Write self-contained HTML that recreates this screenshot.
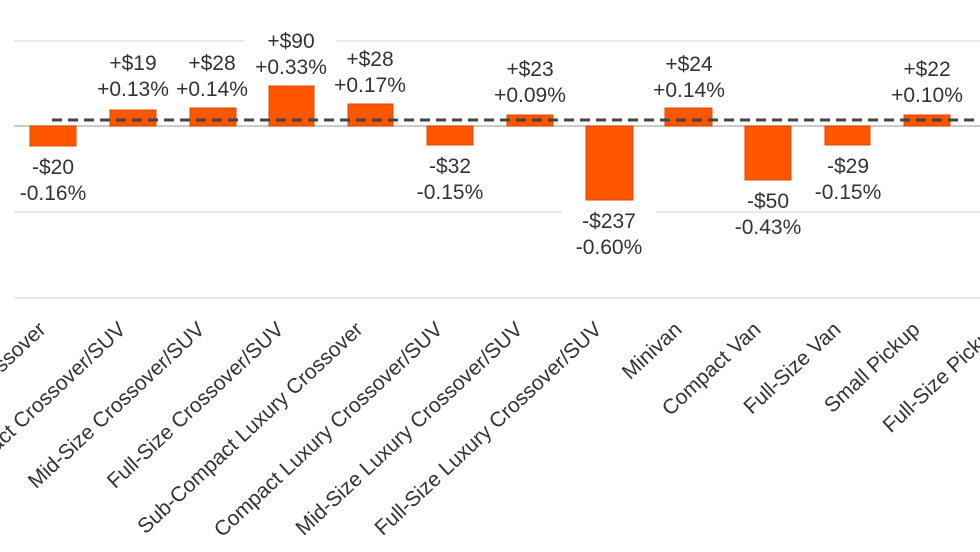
<!DOCTYPE html>
<html><head><meta charset="utf-8"><style>
html,body{margin:0;padding:0;background:#fff;}
svg{display:block;}
text{font-family:"Liberation Sans",Arial,sans-serif;fill:#333;font-size:21px;}
</style></head><body>
<svg width="980" height="552" viewBox="0 0 980 552" xmlns="http://www.w3.org/2000/svg">
<g stroke="#e2e2e2" stroke-width="1.5">
<line x1="14" y1="41" x2="980" y2="41"/>
<line x1="14" y1="212" x2="980" y2="212"/>
<line x1="14" y1="298" x2="980" y2="298"/>
</g>
<line x1="14" y1="126" x2="980" y2="126" stroke="#b8b8b8" stroke-width="1.5"/>
<g fill="#ff5500" stroke="#d94a00" stroke-width="1">
<rect x="30" y="126" width="46" height="20"/>
<rect x="110" y="110" width="46" height="16"/>
<rect x="190" y="108" width="46" height="18"/>
<rect x="269" y="86" width="45" height="40"/>
<rect x="348" y="104" width="45" height="22"/>
<rect x="427" y="126" width="46" height="19"/>
<rect x="507" y="115" width="46" height="11"/>
<rect x="586" y="126" width="47" height="74"/>
<rect x="665" y="108" width="47" height="18"/>
<rect x="745" y="126" width="46" height="54"/>
<rect x="825" y="126" width="45" height="19"/>
<rect x="904" y="115" width="46" height="11"/>
</g>
<line x1="52" y1="120" x2="980" y2="120" stroke="#444" stroke-width="3" stroke-dasharray="10,6"/>
<rect x="245" y="30" width="92" height="22" fill="#fff"/>
<rect x="562" y="205" width="94" height="22" fill="#fff"/>
<g text-anchor="middle">
<text x="53" y="174">-$20</text><text x="53" y="200">-0.16%</text>
<text x="133" y="70">+$19</text><text x="133" y="96">+0.13%</text>
<text x="212" y="70">+$28</text><text x="212" y="96">+0.14%</text>
<text x="291" y="48">+$90</text><text x="291" y="74">+0.33%</text>
<text x="370" y="66">+$28</text><text x="370" y="92">+0.17%</text>
<text x="450" y="173">-$32</text><text x="450" y="199">-0.15%</text>
<text x="530" y="76">+$23</text><text x="530" y="102">+0.09%</text>
<text x="609" y="228">-$237</text><text x="609" y="254">-0.60%</text>
<text x="689" y="71">+$24</text><text x="689" y="97">+0.14%</text>
<text x="768" y="208">-$50</text><text x="768" y="234">-0.43%</text>
<text x="848" y="173">-$29</text><text x="848" y="199">-0.15%</text>
<text x="927" y="76">+$22</text><text x="927" y="102">+0.10%</text>
<text x="986" y="110">+</text>
</g>
<g text-anchor="end">
<text transform="translate(47,331) rotate(-43)">Small Crossover</text>
<text transform="translate(127,331) rotate(-43)">Compact Crossover/SUV</text>
<text transform="translate(206,331) rotate(-43)">Mid-Size Crossover/SUV</text>
<text transform="translate(285,331) rotate(-43)">Full-Size Crossover/SUV</text>
<text transform="translate(364,331) rotate(-43)">Sub-Compact Luxury Crossover</text>
<text transform="translate(444,331) rotate(-43)">Compact Luxury Crossover/SUV</text>
<text transform="translate(524,331) rotate(-43)">Mid-Size Luxury Crossover/SUV</text>
<text transform="translate(603,331) rotate(-43)">Full-Size Luxury Crossover/SUV</text>
<text transform="translate(683,331) rotate(-43)">Minivan</text>
<text transform="translate(762,331) rotate(-43)">Compact Van</text>
<text transform="translate(842,331) rotate(-43)">Full-Size Van</text>
<text transform="translate(921,331) rotate(-43)">Small Pickup</text>
<text transform="translate(1001,331) rotate(-43)">Full-Size Pickup</text>
</g>
</svg>
</body></html>
